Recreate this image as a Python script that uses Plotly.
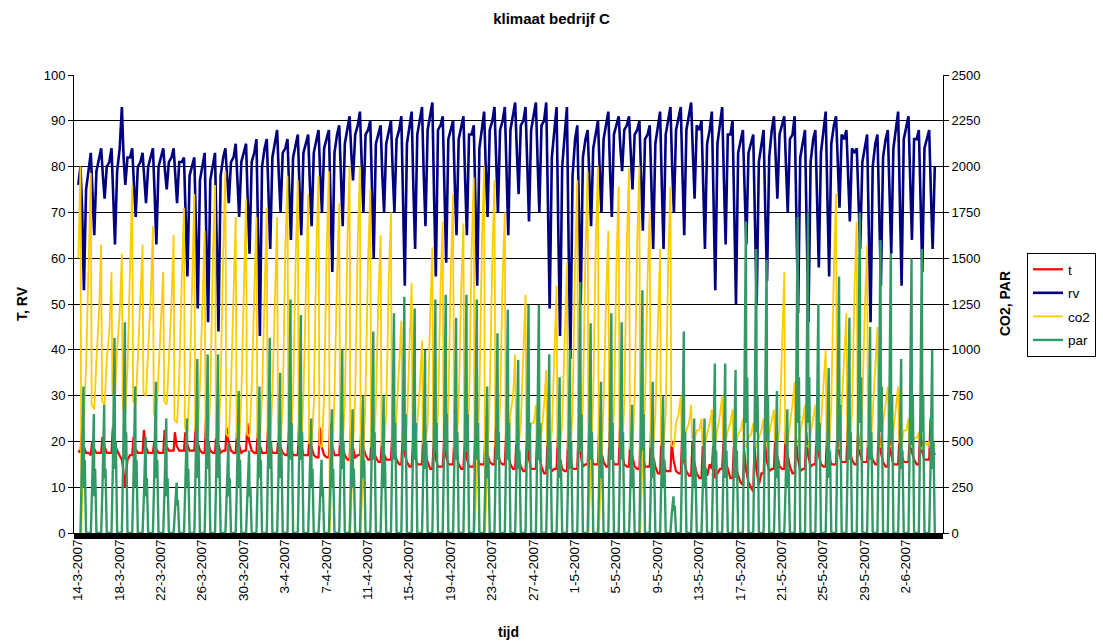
import pandas as pd
import plotly.graph_objects as go

# Greenhouse climate, company C: samples per day (hours given per series)
START = "2007-03-14"

RV_HOURS = [1, 6, 10, 14, 19]
T_HOURS = [1, 6, 9, 13, 19]
CO2_HOURS = [1, 6, 8, 14, 19]
PAR_HOURS = [6, 9, 11, 13, 14, 16, 19]

# relative humidity (%)
rv = [
    (76, 80, 70, 53, 75), (80, 83, 74, 65, 79), (82, 84, 78, 73, 80), (81, 84, 75, 63, 79),
    (84, 93, 82, 76, 82), (82, 84, 76, 69, 80), (81, 83, 77, 72, 80), (82, 84, 74, 63, 80),
    (82, 84, 79, 75, 81), (82, 84, 78, 72, 81), (81, 82, 70, 56, 78), (80, 82, 66, 49, 77),
    (80, 83, 64, 46, 77), (80, 83, 63, 44, 78), (82, 84, 78, 72, 81), (82, 85, 76, 69, 81),
    (83, 85, 72, 61, 81), (83, 86, 64, 43, 80), (84, 86, 73, 62, 82), (85, 88, 78, 70, 83),
    (84, 86, 74, 64, 82), (85, 87, 75, 65, 83), (85, 87, 76, 67, 83), (86, 88, 78, 70, 84),
    (86, 88, 72, 57, 83), (87, 89, 77, 67, 85), (88, 91, 83, 77, 87), (89, 92, 80, 70, 87),
    (88, 90, 74, 60, 85), (87, 89, 78, 70, 85), (88, 90, 79, 70, 86), (88, 91, 71, 54, 85),
    (89, 92, 75, 62, 87), (90, 93, 78, 67, 88), (91, 94, 73, 56, 88), (89, 91, 74, 59, 86),
    (88, 90, 76, 65, 86), (89, 91, 77, 65, 87), (87, 89, 70, 54, 84), (89, 92, 79, 69, 88),
    (90, 93, 80, 70, 88), (90, 93, 78, 65, 88), (91, 94, 83, 74, 89), (90, 93, 79, 68, 88),
    (91, 94, 81, 70, 89), (90, 94, 70, 49, 82), (88, 93, 66, 43, 80), (87, 93, 62, 38, 78),
    (86, 89, 68, 50, 82), (86, 88, 76, 67, 84), (87, 90, 79, 70, 86), (89, 92, 79, 69, 87),
    (89, 91, 84, 79, 88), (89, 91, 82, 75, 87), (88, 90, 77, 66, 86), (87, 89, 75, 62, 85),
    (89, 92, 76, 62, 87), (90, 93, 80, 70, 88), (91, 93, 78, 65, 88), (91, 94, 83, 73, 89),
    (88, 90, 75, 62, 85), (88, 92, 71, 53, 85), (90, 93, 77, 63, 87), (87, 90, 69, 50, 83),
    (86, 88, 75, 63, 83), (85, 87, 68, 50, 81), (85, 88, 70, 55, 82), (88, 91, 81, 73, 87),
    (89, 91, 80, 70, 86), (87, 91, 68, 48, 82), (85, 88, 66, 46, 81), (86, 88, 72, 58, 83),
    (88, 92, 73, 56, 85), (89, 91, 80, 71, 87), (86, 88, 77, 68, 84), (83, 84, 72, 62, 81),
    (84, 87, 66, 46, 80), (85, 87, 70, 54, 82), (86, 88, 74, 61, 84), (88, 92, 72, 54, 86),
    (89, 91, 77, 64, 86), (86, 88, 72, 57, 84), (86, 88, 74, 62, 80),
]

# temperature (degC)
t = [
    (18, 17.5, 22.5, 19, 17.5), (17.5, 17, 20, 18.5, 17.5), (17.5, 17.5, 21, 19, 17.5),
    (17.5, 17.5, 23, 19.5, 18), (17, 16, 14, 10, 16), (17, 17, 21, 18.5, 17.5),
    (17.5, 17.5, 22.5, 19, 17.5), (17.5, 17.5, 20, 18.5, 17.5), (17.5, 17.5, 22.5, 19, 18),
    (18, 18, 22, 19, 18), (18, 18, 22, 19.5, 18), (18, 18, 23, 20, 18),
    (17.5, 17.5, 25, 20, 18), (17.5, 17.5, 22, 19.5, 17.5), (18, 18, 23, 20, 18),
    (17.5, 17.5, 22, 19.5, 17.5), (18, 18, 24, 20, 18), (17.5, 17.5, 22, 19.5, 17.5),
    (17.5, 17.5, 23, 20, 17.5), (17.5, 17.5, 21, 19, 17.5), (17, 17, 22, 19, 17),
    (17, 17, 24, 19.5, 17), (17, 17, 21, 19, 17), (16.5, 16.5, 23, 19, 17),
    (16.5, 16.5, 24, 19.5, 17), (17, 17, 22, 19, 17), (16, 16, 23, 19, 16.5),
    (17, 17, 22, 19, 17), (16, 16, 21, 18, 16.5), (15.5, 15.5, 20, 17.5, 16),
    (16, 16, 22, 18, 16), (15, 15, 21, 17.5, 15.5), (14.5, 14.5, 20, 17, 15),
    (15, 15, 22, 17.5, 15.5), (14, 14, 20, 16.5, 14.5), (14.5, 14.5, 20, 17, 15),
    (15, 15, 21, 17.5, 15), (14, 14, 20, 16.5, 14.5), (14.5, 14.5, 21, 17, 15),
    (15, 15, 22, 17.5, 15.5), (15, 15, 23, 18, 15.5), (15, 15, 22, 17.5, 15),
    (14, 14, 21, 17, 14.5), (13.5, 13.5, 20, 16.5, 14), (14, 14, 22, 17, 14.5),
    (13, 13, 20, 16, 13.5), (14, 14, 21, 16.5, 14), (13.5, 13.5, 22, 17, 14),
    (14, 14, 23, 17.5, 14.5), (15, 15, 22, 17.5, 15), (15, 15, 24, 18, 15.5),
    (14.5, 14.5, 22, 17.5, 15), (15, 15, 23, 18, 15), (14.5, 14.5, 21, 17, 14.5),
    (14, 14, 23, 17.5, 14.5), (14.5, 14.5, 22, 17, 14.5), (13, 13, 21, 16.5, 13.5),
    (13.5, 13.5, 20, 16, 13.5), (13, 13, 21, 16, 13.5), (12.5, 12.5, 20, 15.5, 13),
    (12, 12, 19, 15, 12.5), (15, 14, 19, 12, 13), (14, 14, 20, 16, 14),
    (12, 12, 19, 15, 12.5), (11, 10.5, 18, 14, 11), (10, 9, 19, 14, 10.5),
    (13, 13, 20, 16, 13.5), (14, 14, 21, 17, 14.5), (14, 14, 22, 17.5, 14.5),
    (13, 13, 21, 16.5, 13.5), (14, 14, 22, 17, 14.5), (15, 15, 22, 17.5, 15),
    (14.5, 14.5, 21, 17, 15), (15, 15, 22, 17.5, 15.5), (15.5, 15.5, 23, 18, 16),
    (15, 15, 22, 17.5, 15.5), (15.5, 15.5, 22, 18, 16), (15, 15, 23, 18, 15.5),
    (14.5, 14.5, 22, 17.5, 15), (15, 15, 21, 17.5, 15.5), (15.5, 15.5, 22, 18, 16),
    (15, 15, 23, 18, 16), (16, 16, 25, 19, 17),
]

# CO2 concentration (ppm)
co2 = [
    (1500, 2000, 0, 650, 900), (1500, 1965, 700, 675, 950), (1200, 1575, 720, 700, 950),
    (1100, 1425, 760, 750, 1000), (1200, 1525, 680, 650, 900), (1450, 1900, 720, 700, 950),
    (1250, 1575, 760, 750, 1000), (1300, 1675, 650, 625, 900), (1150, 1425, 720, 700, 950),
    (1250, 1625, 620, 600, 850), (1400, 1775, 580, 550, 800), (1450, 1850, 560, 550, 800),
    (1300, 1650, 520, 500, 750), (1500, 1900, 520, 500, 800), (1550, 1975, 540, 525, 800),
    (1350, 1725, 520, 500, 750), (1400, 1825, 540, 525, 800), (1350, 1725, 520, 500, 750),
    (1400, 1775, 510, 500, 750), (1350, 1725, 500, 480, 700), (1550, 1950, 490, 480, 750),
    (1500, 1925, 480, 470, 750), (1450, 1850, 490, 480, 700), (1550, 1950, 480, 470, 750),
    (1550, 1975, 0, 460, 750), (1400, 1800, 480, 470, 700), (1600, 2000, 0, 460, 750),
    (1600, 2000, 0, 470, 750), (1500, 1875, 470, 460, 700), (1300, 1625, 480, 470, 650),
    (1400, 1750, 470, 460, 650), (900, 1160, 490, 480, 600), (1050, 1365, 480, 470, 600),
    (800, 1050, 490, 480, 600), (1200, 1560, 470, 460, 650), (1350, 1700, 470, 460, 700),
    (1450, 1850, 460, 450, 700), (1350, 1690, 460, 450, 700), (1550, 1940, 0, 450, 750),
    (1600, 2000, 0, 450, 750), (1500, 1925, 470, 460, 700), (1400, 1750, 470, 460, 650),
    (750, 975, 490, 480, 600), (1000, 1300, 480, 470, 600), (600, 700, 490, 480, 550),
    (700, 890, 480, 470, 550), (1050, 1350, 470, 460, 600), (1150, 1475, 460, 450, 650),
    (1500, 1925, 460, 450, 700), (1550, 1975, 0, 450, 750), (1600, 2000, 0, 450, 700),
    (1300, 1650, 470, 460, 650), (1500, 1890, 470, 460, 700), (1600, 1990, 460, 450, 750),
    (1600, 2000, 0, 450, 700), (1400, 1750, 470, 460, 650), (1200, 1550, 480, 470, 650),
    (1500, 1890, 480, 470, 600), (650, 750, 510, 500, 560), (600, 700, 520, 510, 560),
    (560, 625, 490, 480, 540), (600, 675, 500, 490, 560), (650, 750, 510, 500, 560),
    (600, 675, 490, 480, 540), (560, 625, 480, 470, 520), (540, 600, 480, 470, 520),
    (560, 625, 490, 480, 540), (600, 675, 500, 490, 560), (1100, 1425, 490, 480, 600),
    (700, 825, 490, 480, 560), (620, 700, 480, 470, 540), (620, 700, 480, 470, 600),
    (800, 1000, 480, 470, 700), (1450, 1850, 470, 460, 700), (950, 1200, 480, 470, 650),
    (1350, 1700, 470, 460, 700), (1250, 1575, 470, 460, 650), (900, 1125, 480, 470, 600),
    (700, 800, 480, 470, 560), (700, 800, 490, 480, 560), (560, 625, 480, 470, 520),
    (520, 550, 470, 460, 500), (480, 500, 470, 460, 480),
]

# photosynthetically active radiation
par = [
    (0, 300, 550, 800, 250, 400, 0), (0, 250, 450, 650, 200, 350, 0), (0, 250, 500, 700, 300, 350, 0),
    (0, 350, 700, 1065, 350, 500, 0), (0, 400, 750, 1150, 400, 550, 0), (0, 300, 550, 800, 250, 400, 0),
    (0, 200, 350, 525, 200, 300, 0), (0, 300, 550, 825, 300, 400, 0), (0, 250, 400, 625, 200, 300, 0),
    (0, 120, 200, 275, 150, 180, 0), (0, 250, 450, 625, 250, 350, 0), (0, 350, 650, 950, 300, 450, 0),
    (0, 350, 650, 975, 350, 500, 0), (0, 350, 600, 975, 300, 450, 0), (0, 200, 350, 490, 200, 300, 0),
    (0, 300, 500, 775, 250, 400, 0), (0, 200, 300, 450, 200, 250, 0), (0, 300, 550, 800, 300, 400, 0),
    (0, 400, 700, 1065, 350, 500, 0), (0, 300, 600, 875, 300, 450, 0), (0, 450, 850, 1275, 400, 600, 0),
    (0, 400, 800, 1190, 400, 550, 0), (0, 250, 400, 625, 250, 350, 0), (0, 150, 300, 400, 200, 250, 0),
    (0, 250, 450, 675, 250, 350, 0), (0, 350, 650, 1000, 350, 500, 0), (0, 250, 450, 675, 250, 350, 0),
    (0, 300, 500, 750, 300, 400, 0), (0, 400, 750, 1100, 400, 550, 0), (0, 300, 500, 750, 250, 400, 0),
    (0, 450, 800, 1200, 400, 600, 0), (0, 450, 850, 1290, 450, 650, 0), (0, 450, 800, 1225, 400, 600, 0),
    (0, 350, 650, 1000, 350, 500, 0), (0, 450, 850, 1275, 450, 600, 0), (0, 450, 850, 1300, 450, 650, 0),
    (0, 400, 800, 1175, 400, 550, 0), (0, 450, 850, 1300, 450, 650, 0), (0, 450, 850, 1275, 400, 600, 0),
    (0, 300, 550, 800, 300, 400, 0), (0, 400, 700, 1090, 400, 550, 0), (0, 450, 800, 1220, 400, 600, 0),
    (0, 350, 600, 945, 350, 450, 0), (0, 450, 800, 1245, 450, 600, 0), (0, 450, 800, 1245, 400, 600, 0),
    (0, 350, 650, 975, 350, 500, 0), (0, 300, 550, 850, 300, 400, 0), (0, 350, 650, 1000, 350, 500, 0),
    (0, 500, 900, 1370, 450, 650, 0), (0, 400, 750, 1145, 400, 550, 0), (0, 300, 550, 825, 300, 400, 0),
    (0, 450, 800, 1200, 400, 600, 0), (0, 400, 750, 1150, 400, 550, 0), (0, 250, 450, 700, 250, 350, 0),
    (0, 450, 900, 1325, 450, 650, 0), (0, 300, 550, 825, 300, 400, 0), (0, 300, 500, 750, 250, 400, 0),
    (0, 100, 150, 200, 120, 150, 0), (0, 400, 700, 1100, 400, 550, 0), (0, 250, 400, 625, 250, 350, 0),
    (0, 250, 400, 625, 250, 350, 0), (0, 350, 600, 925, 350, 450, 0), (0, 350, 600, 925, 300, 450, 0),
    (0, 350, 600, 890, 300, 450, 0), (0, 600, 1100, 1700, 600, 850, 0), (0, 550, 1000, 1550, 550, 750, 0),
    (0, 550, 950, 1490, 500, 750, 0), (0, 300, 500, 775, 300, 400, 0), (0, 250, 450, 675, 250, 350, 0),
    (0, 600, 1100, 1725, 600, 850, 0), (0, 600, 1150, 1750, 600, 850, 0), (0, 450, 800, 1250, 450, 600, 0),
    (0, 350, 600, 900, 300, 450, 0), (0, 500, 900, 1400, 500, 700, 0), (0, 400, 750, 1175, 400, 550, 0),
    (0, 600, 1150, 1750, 600, 850, 0), (0, 400, 750, 1125, 400, 550, 0), (0, 550, 1050, 1600, 550, 800, 0),
    (0, 550, 1000, 1525, 500, 750, 0), (0, 350, 600, 950, 350, 450, 0), (0, 550, 1000, 1500, 500, 750, 0),
    (0, 550, 1000, 1550, 550, 750, 0), (0, 350, 650, 1000, 350, 500, 0),
]

TICK_DATES = ["2007-03-14", "2007-03-18", "2007-03-22", "2007-03-26", "2007-03-30",
              "2007-04-03", "2007-04-07", "2007-04-11", "2007-04-15", "2007-04-19",
              "2007-04-23", "2007-04-27", "2007-05-01", "2007-05-05", "2007-05-09",
              "2007-05-13", "2007-05-17", "2007-05-21", "2007-05-25", "2007-05-29",
              "2007-06-02"]
TICK_LABELS = ["14-3-2007", "18-3-2007", "22-3-2007", "26-3-2007", "30-3-2007",
               "3-4-2007", "7-4-2007", "11-4-2007", "15-4-2007", "19-4-2007",
               "23-4-2007", "27-4-2007", "1-5-2007", "5-5-2007", "9-5-2007",
               "13-5-2007", "17-5-2007", "21-5-2007", "25-5-2007", "29-5-2007",
               "2-6-2007"]

start = pd.Timestamp(START)


def series(rows, hours):
    xs, ys = [], []
    for d, row in enumerate(rows):
        for h, v in zip(hours, row):
            xs.append(start + pd.Timedelta(days=d, hours=h))
            ys.append(v)
    return xs, ys


FONT = "Arial, Liberation Sans, sans-serif"
W, H = 1103, 644
PLOT_H = H - 75 - 111
fig = go.Figure()

specs = [
    ("t", t, T_HOURS, "#FF0000", "y", 2.2),
    ("rv", rv, RV_HOURS, "#000080", "y", 2.6),
    ("co2", co2, CO2_HOURS, "#FFCC00", "y2", 1.8),
    ("par", par, PAR_HOURS, "#339966", "y2", 2.4),
]
for name, rows, hours, color, axis, width in specs:
    xs, ys = series(rows, hours)
    fig.add_trace(go.Scatter(x=xs, y=ys, name=name, mode="lines", yaxis=axis,
                             legendgroup=name,
                             line=dict(color=color, width=width)))

axis_title_font = dict(family=FONT, size=14, color="black")
fig.update_layout(
    width=W, height=H,
    margin=dict(l=74, r=160, t=75, b=111, autoexpand=False),
    paper_bgcolor="white", plot_bgcolor="white",
    font=dict(family=FONT, size=13, color="black"),
    title=dict(text="<b>klimaat bedrijf C</b>", x=0.5, xref="container", xanchor="center",
               y=1 - 19 / H, yref="container", yanchor="middle",
               font=dict(size=15)),
    xaxis=dict(type="date", range=["2007-03-13 15:00", "2007-06-05 14:00"],
               tickvals=TICK_DATES, ticktext=TICK_LABELS, tickangle=-90,
               showgrid=False, zeroline=False, showline=True, linecolor="black",
               ticks="", tickfont=dict(size=13.5), automargin=False),
    yaxis=dict(range=[0, 100], dtick=10, showgrid=True, gridcolor="black", gridwidth=1,
               zeroline=False, showline=True, linecolor="black", ticks="outside",
               ticklen=5, tickcolor="black", tickfont=dict(size=13), automargin=False),
    yaxis2=dict(range=[0, 2500], dtick=250, overlaying="y", side="right",
                showgrid=False, zeroline=False, showline=True, linecolor="black",
                ticks="outside", ticklen=5, tickcolor="black", tickfont=dict(size=13),
                automargin=False),
    legend=dict(xref="container", yref="container", x=1027 / W, xanchor="left",
                y=1 - 253 / H, yanchor="top",
                bordercolor="black", borderwidth=1, bgcolor="white",
                font=dict(size=13.5), itemwidth=30, tracegroupgap=3),
    shapes=[dict(type="rect", xref="paper", yref="paper", x0=0, x1=1,
                 y0=-6 / PLOT_H, y1=0, fillcolor="black", line=dict(width=0),
                 layer="below")],
    annotations=[
        dict(text="<b>tijd</b>", xref="paper", yref="paper", x=0.5,
             y=-(632 - 533) / PLOT_H, showarrow=False, font=axis_title_font,
             xanchor="center", yanchor="middle"),
        dict(text="<b>T, RV</b>", xref="paper", yref="paper", x=-(74 - 22) / 869,
             y=0.5, showarrow=False, font=axis_title_font, textangle=-90,
             xanchor="center", yanchor="middle"),
        dict(text="<b>CO2, PAR</b>", xref="paper", yref="paper", x=1 + (1005 - 943) / 869,
             y=0.5, showarrow=False, font=axis_title_font, textangle=-90,
             xanchor="center", yanchor="middle"),
    ],
)

fig.write_html("out.html")
